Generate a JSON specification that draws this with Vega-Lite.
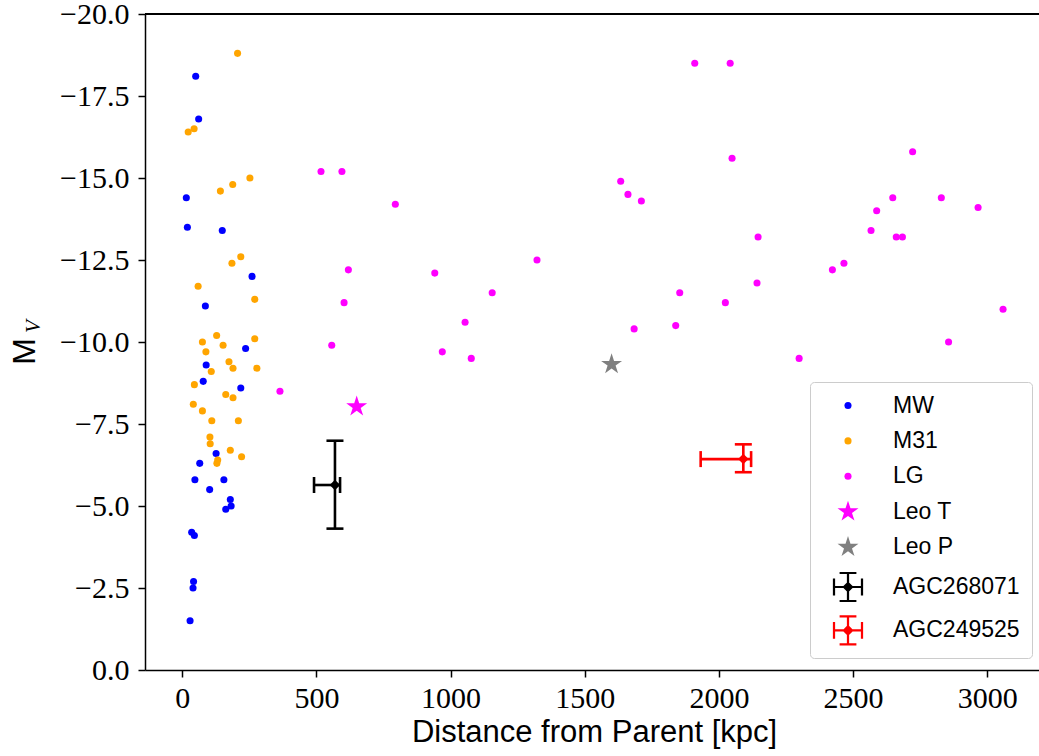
{
  "$schema": "https://vega.github.io/schema/vega-lite/v6.json",
  "width": 894,
  "height": 656,
  "autosize": {"type": "none"},
  "padding": {"left": 145, "top": 14, "right": 0, "bottom": 86},
  "background": "white",
  "config": {
    "view": {"stroke": null},
    "axis": {"grid": false, "domain": false, "domainColor": "black", "tickColor": "black", "labelColor": "black", "titleColor": "black", "domainWidth": 1.5, "tickWidth": 1.5}
  },
  "data": {"values": [
    {"g":"MW","d":50,"m":-18.1},{"g":"MW","d":61,"m":-16.8},{"g":"MW","d":15,"m":-14.4},{"g":"MW","d":19,"m":-13.5},{"g":"MW","d":149,"m":-13.4},{"g":"MW","d":260,"m":-12.0},{"g":"MW","d":86,"m":-11.1},{"g":"MW","d":236,"m":-9.8},{"g":"MW","d":89,"m":-9.3},{"g":"MW","d":78,"m":-8.8},{"g":"MW","d":218,"m":-8.6},{"g":"MW","d":126,"m":-6.6},{"g":"MW","d":65,"m":-6.3},{"g":"MW","d":47,"m":-5.8},{"g":"MW","d":155,"m":-5.8},{"g":"MW","d":102,"m":-5.5},{"g":"MW","d":179,"m":-5.2},{"g":"MW","d":182,"m":-5.0},{"g":"MW","d":162,"m":-4.9},{"g":"MW","d":35,"m":-4.2},{"g":"MW","d":45,"m":-4.1},{"g":"MW","d":42,"m":-2.7},{"g":"MW","d":40,"m":-2.5},{"g":"MW","d":29,"m":-1.5},
    {"g":"M31","d":206,"m":-18.8},{"g":"M31","d":44,"m":-16.5},{"g":"M31","d":22,"m":-16.4},{"g":"M31","d":252,"m":-15.0},{"g":"M31","d":188,"m":-14.8},{"g":"M31","d":142,"m":-14.6},{"g":"M31","d":218,"m":-12.6},{"g":"M31","d":185,"m":-12.4},{"g":"M31","d":59,"m":-11.7},{"g":"M31","d":270,"m":-11.3},{"g":"M31","d":128,"m":-10.2},{"g":"M31","d":270,"m":-10.1},{"g":"M31","d":75,"m":-10.0},{"g":"M31","d":152,"m":-9.9},{"g":"M31","d":88,"m":-9.7},{"g":"M31","d":174,"m":-9.4},{"g":"M31","d":189,"m":-9.2},{"g":"M31","d":278,"m":-9.2},{"g":"M31","d":108,"m":-9.1},{"g":"M31","d":45,"m":-8.7},{"g":"M31","d":162,"m":-8.4},{"g":"M31","d":189,"m":-8.3},{"g":"M31","d":41,"m":-8.1},{"g":"M31","d":75,"m":-7.9},{"g":"M31","d":110,"m":-7.6},{"g":"M31","d":209,"m":-7.6},{"g":"M31","d":103,"m":-7.1},{"g":"M31","d":104,"m":-6.9},{"g":"M31","d":179,"m":-6.7},{"g":"M31","d":221,"m":-6.5},{"g":"M31","d":132,"m":-6.4},{"g":"M31","d":129,"m":-6.3},
    {"g":"LG","d":517,"m":-15.2},{"g":"LG","d":595,"m":-15.2},{"g":"LG","d":794,"m":-14.2},{"g":"LG","d":619,"m":-12.2},{"g":"LG","d":941,"m":-12.1},{"g":"LG","d":603,"m":-11.2},{"g":"LG","d":557,"m":-9.9},{"g":"LG","d":969,"m":-9.7},{"g":"LG","d":364,"m":-8.5},{"g":"LG","d":1910,"m":-18.5},{"g":"LG","d":2042,"m":-18.5},{"g":"LG","d":2049,"m":-15.6},{"g":"LG","d":1634,"m":-14.9},{"g":"LG","d":1661,"m":-14.5},{"g":"LG","d":1711,"m":-14.3},{"g":"LG","d":1322,"m":-12.5},{"g":"LG","d":1155,"m":-11.5},{"g":"LG","d":1054,"m":-10.6},{"g":"LG","d":1077,"m":-9.5},{"g":"LG","d":1854,"m":-11.5},{"g":"LG","d":2024,"m":-11.2},{"g":"LG","d":1684,"m":-10.4},{"g":"LG","d":1839,"m":-10.5},{"g":"LG","d":2722,"m":-15.8},{"g":"LG","d":2648,"m":-14.4},{"g":"LG","d":2829,"m":-14.4},{"g":"LG","d":2966,"m":-14.1},{"g":"LG","d":2588,"m":-14.0},{"g":"LG","d":2567,"m":-13.4},{"g":"LG","d":2661,"m":-13.2},{"g":"LG","d":2684,"m":-13.2},{"g":"LG","d":2146,"m":-13.2},{"g":"LG","d":2466,"m":-12.4},{"g":"LG","d":2423,"m":-12.2},{"g":"LG","d":2142,"m":-11.8},{"g":"LG","d":3059,"m":-11.0},{"g":"LG","d":2856,"m":-10.0},{"g":"LG","d":2299,"m":-9.5},
    {"g":"Leo T","d":650,"m":-8.03},
    {"g":"Leo P","d":1600,"m":-9.32},
    {"g":"AGC268071","d":569,"m":-5.64,"xlo":491,"xhi":588,"ylo":-6.99,"yhi":-4.31},
    {"g":"AGC249525","d":2091,"m":-6.43,"xlo":1932,"xhi":2120,"ylo":-6.88,"yhi":-6.03}
  ]},
  "resolve": {"axis": {"x": "independent", "y": "independent"}},
  "layer": [
    {
      "mark": {"type": "rule", "color": "black", "strokeWidth": 1.5},
      "encoding": {"y": {"datum": -20, "type": "quantitative", "axis": null}}
    },
    {
      "transform": [{"filter": "indexof(datum.g, 'AGC') !== 0"}],
      "mark": {"type": "point", "filled": true, "opacity": 1, "strokeWidth": 0},
      "encoding": {
        "x": {"field": "d", "type": "quantitative",
          "scale": {"domain": [-139, 3193], "nice": false, "zero": false},
          "axis": {"orient": "bottom", "domain": true, "values": [0, 500, 1000, 1500, 2000, 2500, 3000], "format": "d", "title": "Distance from Parent [kpc]",
            "labelFont": "Liberation Serif", "labelFontSize": 30, "labelBaseline": "alphabetic", "labelPadding": 30, "tickSize": 7,
            "labelFlush": false, "labelOverlap": false,
            "titleFont": "Liberation Sans", "titleFontSize": 31, "titleFontWeight": "normal", "titleBaseline": "alphabetic", "titleY": 71, "titleX": 449, "titleAlign": "center"}},
        "y": {"field": "m", "type": "quantitative",
          "scale": {"domain": [-20, 0], "reverse": true, "nice": false, "zero": false},
          "axis": {"orient": "left", "domain": true, "values": [-20, -17.5, -15, -12.5, -10, -7.5, -5, -2.5, 0], "format": ".1f", "title": "M",
            "labelFont": "Liberation Serif", "labelFontSize": 30, "labelPadding": 9, "tickSize": 7, "labelFlush": false, "labelOverlap": false,
            "titleFont": "Liberation Sans", "titleFontSize": 32, "titleFontWeight": "normal", "titleAngle": 270, "titleX": -121, "titleY": 337, "titleAlign": "center", "titleBaseline": "middle"}},
        "color": {"field": "g", "type": "nominal",
          "scale": {"domain": ["MW", "M31", "LG", "Leo T", "Leo P", "AGC268071", "AGC249525"],
                    "range": ["#0000ff", "#ffa500", "#ff00ff", "#ff00ff", "#808080", "#000000", "#ff0000"]},
          "legend": {"title": null, "orient": "none", "legendX": 665, "legendY": 368, "padding": 12,
            "strokeColor": "#cccccc", "fillColor": "white", "cornerRadius": 4, "rowPadding": 11.4,
            "symbolOffset": 12, "labelOffset": 31, "labelFont": "Liberation Sans", "labelFontSize": 23, "labelColor": "black", "labelLimit": 300, "symbolOpacity": 1,
            "symbolStrokeWidth": 0}},
        "shape": {"field": "g", "type": "nominal",
          "scale": {"domain": ["MW", "M31", "LG", "Leo T", "Leo P", "AGC268071", "AGC249525"],
                    "range": ["circle", "circle", "circle",
                      "M0,-1L0.2245,-0.309L0.9511,-0.309L0.3633,0.118L0.5878,0.809L0,0.382L-0.5878,0.809L-0.3633,0.118L-0.9511,-0.309L-0.2245,-0.309Z",
                      "M0,-1L0.2245,-0.309L0.9511,-0.309L0.3633,0.118L0.5878,0.809L0,0.382L-0.5878,0.809L-0.3633,0.118L-0.9511,-0.309L-0.2245,-0.309Z",
                      "M-1,-0.08H1V0.08H-1ZM-1.08,-0.6H-0.92V0.6H-1.08ZM0.92,-0.6H1.08V0.6H0.92ZM-0.08,-1H0.08V1H-0.08ZM-0.6,-1.08H0.6V-0.92H-0.6ZM-0.6,0.92H0.6V1.08H-0.6ZM0,-0.4L0.4,0L0,0.4L-0.4,0Z",
                      "M-1,-0.08H1V0.08H-1ZM-1.08,-0.6H-0.92V0.6H-1.08ZM0.92,-0.6H1.08V0.6H0.92ZM-0.08,-1H0.08V1H-0.08ZM-0.6,-1.08H0.6V-0.92H-0.6ZM-0.6,0.92H0.6V1.08H-0.6ZM0,-0.4L0.4,0L0,0.4L-0.4,0Z"]},
          "legend": {"title": null}},
        "size": {"field": "g", "type": "nominal",
          "scale": {"type": "ordinal", "domain": ["MW", "M31", "LG", "Leo T", "Leo P", "AGC268071", "AGC249525"],
                    "range": [50, 50, 50, 484, 484, 784, 784]},
          "legend": {"title": null}}
      }
    },
    {
      "transform": [{"filter": "indexof(datum.g, 'AGC') === 0"}],
      "layer": [
        {"mark": {"type": "rule", "strokeWidth": 2.6},
         "encoding": {"x": {"field": "xlo", "type": "quantitative", "axis": null}, "x2": {"field": "xhi"},
                      "y": {"field": "m", "type": "quantitative", "axis": null},
                      "color": {"field": "g", "type": "nominal", "legend": null}}},
        {"mark": {"type": "rule", "strokeWidth": 2.6},
         "encoding": {"x": {"field": "d", "type": "quantitative", "axis": null},
                      "y": {"field": "ylo", "type": "quantitative", "axis": null}, "y2": {"field": "yhi"},
                      "color": {"field": "g", "type": "nominal", "legend": null}}},
        {"mark": {"type": "tick", "orient": "vertical", "size": 16, "thickness": 2.6, "opacity": 1},
         "encoding": {"x": {"field": "xlo", "type": "quantitative", "axis": null},
                      "y": {"field": "m", "type": "quantitative", "axis": null},
                      "color": {"field": "g", "type": "nominal", "legend": null}}},
        {"mark": {"type": "tick", "orient": "vertical", "size": 16, "thickness": 2.6, "opacity": 1},
         "encoding": {"x": {"field": "xhi", "type": "quantitative", "axis": null},
                      "y": {"field": "m", "type": "quantitative", "axis": null},
                      "color": {"field": "g", "type": "nominal", "legend": null}}},
        {"mark": {"type": "tick", "orient": "horizontal", "size": 17, "thickness": 2.6, "opacity": 1},
         "encoding": {"x": {"field": "d", "type": "quantitative", "axis": null},
                      "y": {"field": "ylo", "type": "quantitative", "axis": null},
                      "color": {"field": "g", "type": "nominal", "legend": null}}},
        {"mark": {"type": "tick", "orient": "horizontal", "size": 17, "thickness": 2.6, "opacity": 1},
         "encoding": {"x": {"field": "d", "type": "quantitative", "axis": null},
                      "y": {"field": "yhi", "type": "quantitative", "axis": null},
                      "color": {"field": "g", "type": "nominal", "legend": null}}},
        {"mark": {"type": "point", "shape": "diamond", "filled": true, "size": 110, "opacity": 1, "strokeWidth": 0},
         "encoding": {"x": {"field": "d", "type": "quantitative", "axis": null},
                      "y": {"field": "m", "type": "quantitative", "axis": null},
                      "color": {"field": "g", "type": "nominal", "legend": null}}}
      ]
    },
    {
      "transform": [{"filter": "datum.g === 'Leo P'"}],
      "mark": {"type": "point", "opacity": 0},
      "encoding": {
        "x": {"field": "d", "type": "quantitative", "axis": null},
        "y": {"field": "m", "type": "quantitative",
          "axis": {"orient": "left", "labels": false, "ticks": false, "domain": false, "title": "V",
            "titleFont": "Liberation Serif", "titleFontStyle": "italic", "titleFontSize": 21, "titleFontWeight": "normal",
            "titleAngle": 270, "titleX": -112, "titleY": 312, "titleAlign": "center", "titleBaseline": "middle"}}
      }
    }
  ]
}
